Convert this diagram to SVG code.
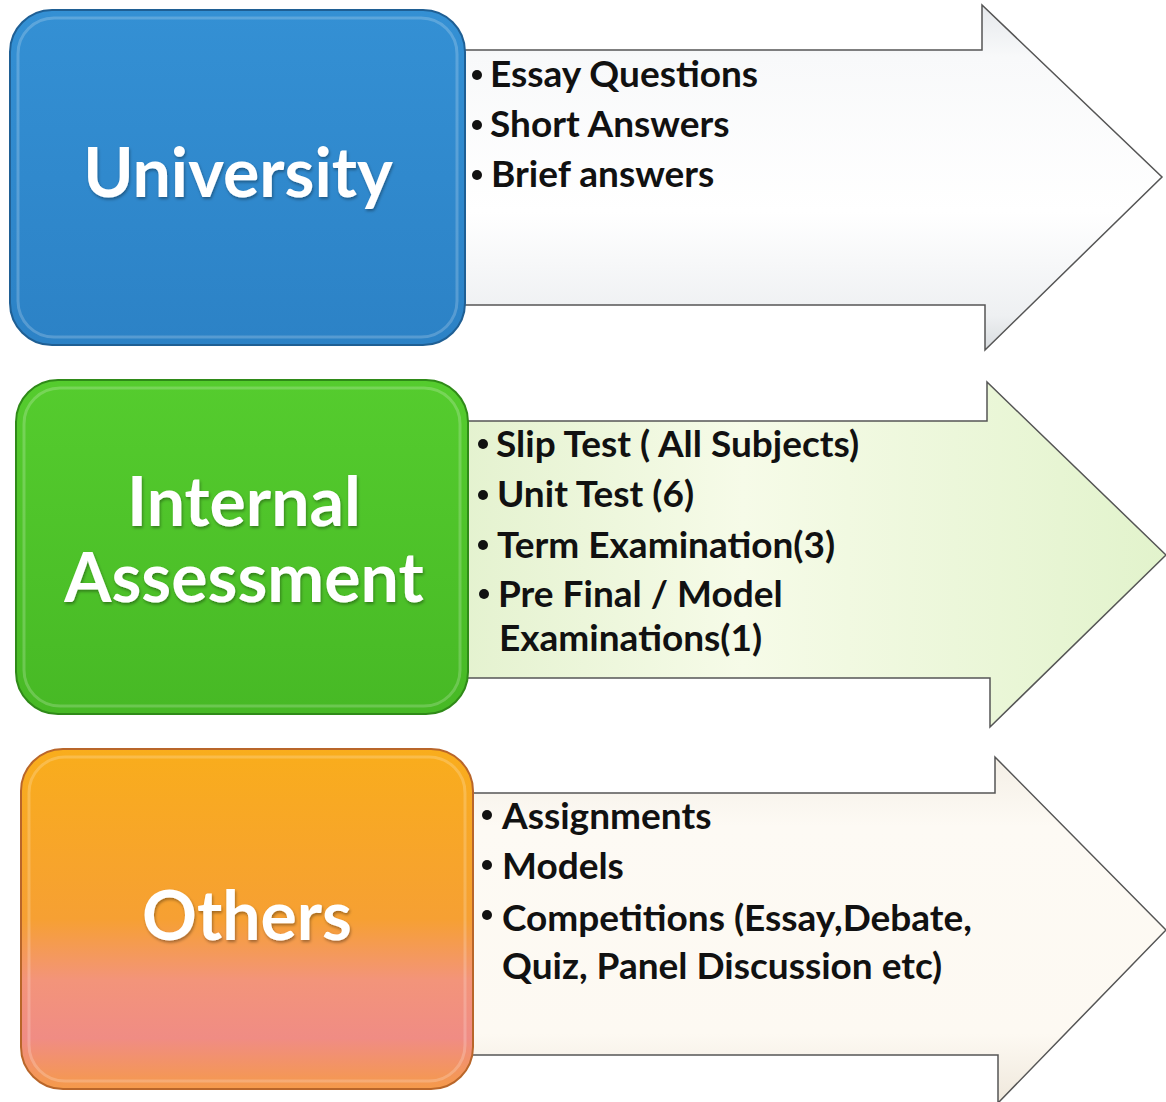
<svg xmlns="http://www.w3.org/2000/svg" width="1166" height="1102" viewBox="0 0 1166 1102">
<defs>
<linearGradient id="gBlue" x1="0" y1="0" x2="0" y2="1"><stop offset="0" stop-color="#3490d4"/><stop offset="1" stop-color="#2c82c6"/></linearGradient>
<linearGradient id="gGreen" x1="0" y1="0" x2="0" y2="1"><stop offset="0" stop-color="#55cc2e"/><stop offset="1" stop-color="#47b925"/></linearGradient>
<linearGradient id="gOrange" x1="0" y1="0" x2="0" y2="1"><stop offset="0" stop-color="#f9ad1c"/><stop offset="0.5" stop-color="#f6a033"/><stop offset="0.68" stop-color="#f3947a"/><stop offset="0.85" stop-color="#f08c84"/><stop offset="1" stop-color="#f59a4a"/></linearGradient>
<linearGradient id="aGray" x1="0" y1="0" x2="0" y2="1"><stop offset="0" stop-color="#e6e9ec"/><stop offset="0.15" stop-color="#f8f9fa"/><stop offset="0.6" stop-color="#ffffff"/><stop offset="0.9" stop-color="#eef0f2"/><stop offset="1" stop-color="#d8dcdf"/></linearGradient>
<linearGradient id="aGreen" x1="0" y1="0" x2="1" y2="0"><stop offset="0" stop-color="#e4f2cf"/><stop offset="0.4" stop-color="#f6fbe8"/><stop offset="1" stop-color="#e2f3cc"/></linearGradient>
<linearGradient id="aCream" x1="0" y1="0" x2="0" y2="1"><stop offset="0" stop-color="#f4efe6"/><stop offset="0.2" stop-color="#fdfaf4"/><stop offset="0.8" stop-color="#fdf9f2"/><stop offset="1" stop-color="#efe8dc"/></linearGradient>
<filter id="sh" x="-10%" y="-10%" width="120%" height="130%"><feDropShadow dx="1" dy="2" stdDeviation="1.5" flood-color="#000" flood-opacity="0.35"/></filter>
</defs>
<style>
.arrow{stroke:#555;stroke-width:1.5;stroke-linejoin:miter}
.box{stroke-width:2}
.hl{fill:none;stroke:#fff;stroke-opacity:0.2;stroke-width:3}
.lbl{font-family:Lato,"Liberation Sans",sans-serif;font-weight:700;font-size:68px;fill:#fff;text-anchor:middle}
.itm{font-family:Lato,"Liberation Sans",sans-serif;font-weight:700;font-size:37px;fill:#111}
.dot{fill:#111}
</style>
<rect width="1166" height="1102" fill="#fff"/>
<g id="connectors">
<path class="arrow" fill="url(#aGray)" d="M455,50 L982,50 L982,5 L1162,177 L985,350 L985,305 L455,305 Z"/>
<path class="arrow" fill="url(#aGreen)" d="M460,421 L987,421 L987,382 L1166,555 L990,727 L990,678 L460,678 Z"/>
<path class="arrow" fill="url(#aCream)" d="M465,793 L995,793 L995,757 L1166,930 L998,1103 L998,1055 L465,1055 Z"/>
</g>
<g id="node-university">
<rect class="box" x="10" y="10" width="455" height="335" rx="42" fill="url(#gBlue)" stroke="#1f5f94"/>
<rect class="hl" x="18" y="18" width="439" height="319" rx="36"/>
<text class="lbl" x="238" y="197" filter="url(#sh)">University</text>
</g>
<g id="list-university">
<circle class="dot" cx="477" cy="75" r="5"/><text class="itm" x="490" y="87">Essay Questions</text>
<circle class="dot" cx="477" cy="125" r="5"/><text class="itm" x="490" y="137">Short Answers</text>
<circle class="dot" cx="477" cy="175" r="5"/><text class="itm" x="491" y="187">Brief answers</text>
</g>
<g id="node-internal">
<rect class="box" x="16" y="380" width="452" height="334" rx="42" fill="url(#gGreen)" stroke="#2f8a18"/>
<rect class="hl" x="24" y="388" width="436" height="318" rx="36"/>
<text class="lbl" x="244" y="526" filter="url(#sh)">Internal</text>
<text class="lbl" x="244" y="602" filter="url(#sh)">Assessment</text>
</g>
<g id="list-internal">
<circle class="dot" cx="483" cy="444" r="5"/><text class="itm" x="496" y="457">Slip Test ( All Subjects)</text>
<circle class="dot" cx="483" cy="495" r="5"/><text class="itm" x="497" y="507">Unit Test (6)</text>
<circle class="dot" cx="483" cy="545" r="5"/><text class="itm" x="497" y="558">Term Examination(3)</text>
<circle class="dot" cx="484" cy="594" r="5"/><text class="itm" x="498" y="607">Pre Final / Model</text>
<text class="itm" x="499" y="651">Examinations(1)</text>
</g>
<g id="node-others">
<rect class="box" x="21" y="749" width="452" height="340" rx="42" fill="url(#gOrange)" stroke="#b9662a"/>
<rect class="hl" x="29" y="757" width="436" height="324" rx="36"/>
<text class="lbl" x="247" y="940" filter="url(#sh)">Others</text>
</g>
<g id="list-others">
<circle class="dot" cx="487" cy="815" r="5"/><text class="itm" x="502" y="829">Assignments</text>
<circle class="dot" cx="487" cy="865" r="5"/><text class="itm" x="502" y="879">Models</text>
<circle class="dot" cx="487" cy="915" r="5"/><text class="itm" x="502" y="931">Competitions (Essay,Debate,</text>
<text class="itm" x="502" y="979">Quiz, Panel Discussion etc)</text>
</g>
</svg>
